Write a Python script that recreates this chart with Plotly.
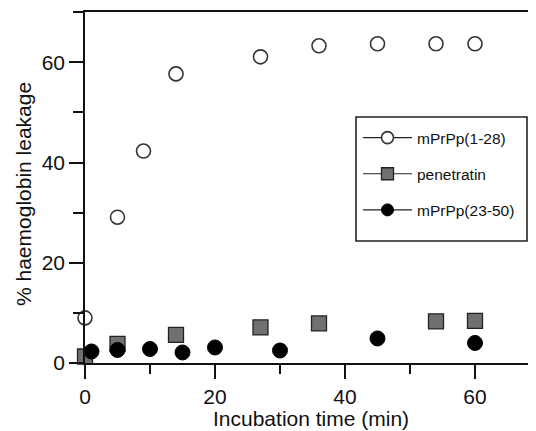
import plotly.graph_objects as go

# Data
series_names = ["mPrPp(1-28)", "penetratin", "mPrPp(23-50)"]
time_a = [0, 5, 9, 14, 27, 36, 45, 54, 60]
leak_a = [9.0, 29.1, 42.3, 57.7, 61.1, 63.3, 63.7, 63.7, 63.7]
time_b = [0, 5, 14, 27, 36, 54, 60]
leak_b = [1.3, 3.8, 5.6, 7.1, 7.9, 8.3, 8.4]
time_c = [1, 5, 10, 15, 20, 30, 45, 60]
leak_c = [2.3, 2.6, 2.8, 2.1, 3.1, 2.5, 4.9, 4.0]

x_ticks = [0, 20, 40, 60]
y_ticks = [0, 20, 40, 60]

FONT = "Liberation Sans, Arial, sans-serif"
INK = "#111111"

styles = [
    dict(symbol="circle", size=14, color="white", line=dict(color="#333333", width=1.6)),
    dict(symbol="square", size=15, color="#707070", line=dict(color="#222222", width=1.3)),
    dict(symbol="circle", size=15, color="black", line=dict(color="black", width=1)),
]
datasets = [(time_a, leak_a), (time_b, leak_b), (time_c, leak_c)]

fig = go.Figure()
for (xs, ys), st in zip(datasets, styles):
    fig.add_trace(go.Scatter(x=xs, y=ys, mode="markers", marker=st,
                             showlegend=False, cliponaxis=False))

# Legend entries (line + marker sample)
for i, (name, st) in enumerate(zip(series_names, styles)):
    lst = dict(st)
    lst["size"] = 12
    fig.add_trace(go.Scatter(x=[None], y=[None], mode="lines+markers", name=name,
                             marker=lst, line=dict(color="#222222", width=1.2),
                             legendgroup=f"g{i}", showlegend=True))

# The page body adds an 8 px offset; size the figure so the plot area lands
# at page pixels x 85..536, y 12..363.
OFF = 8
W, H = 536 - OFF, 431 - OFF
L, R, T = 85 - OFF, 0, 12 - OFF
B = H - (363 - OFF)
pw, ph = W - L - R, H - T - B

def px_x(px):
    return (px - OFF - L) / pw

def px_y(py):
    return (H - B - (py - OFF)) / ph

fig.update_layout(
    template="none",
    width=W, height=H,
    margin=dict(l=L, r=R, t=T, b=B, pad=0, autoexpand=False),
    plot_bgcolor="white", paper_bgcolor="white",
    font=dict(family=FONT, color=INK),
    legend=dict(x=px_x(358), y=px_y(121), xanchor="left", yanchor="top",
                bgcolor="rgba(0,0,0,0)", borderwidth=0,
                font=dict(size=15.5, family=FONT, color=INK),
                itemwidth=49, tracegroupgap=13),
    shapes=[dict(type="rect", xref="paper", yref="paper",
                 x0=px_x(356), x1=px_x(527), y0=px_y(241), y1=px_y(117),
                 line=dict(color="#222222", width=1.6), fillcolor="rgba(0,0,0,0)")],
    annotations=[
        dict(text="Incubation time (min)", xref="paper", yref="paper",
             x=0.5, y=px_y(418), xanchor="center", yanchor="middle",
             showarrow=False, font=dict(size=21, family=FONT, color=INK)),
        dict(text="% haemoglobin leakage", xref="paper", yref="paper",
             x=px_x(23), y=px_y(194), xanchor="center", yanchor="middle",
             textangle=-90, showarrow=False,
             font=dict(size=21, family=FONT, color=INK)),
    ],
)

fig.update_xaxes(range=[0, pw / 6.5], tickvals=x_ticks, ticktext=[str(v) for v in x_ticks],
                 automargin=False,
                 showline=True, linecolor=INK, linewidth=1.6, mirror=True,
                 ticks="outside", ticklen=14, tickwidth=1.6, tickcolor=INK,
                 tickfont=dict(size=21, family=FONT, color=INK),
                 showgrid=False, zeroline=False,
                 minor=dict(tickvals=[10, 30, 50], ticks="outside", ticklen=9,
                            tickwidth=1.6, tickcolor=INK, showgrid=False))
fig.update_yaxes(range=[0, 70.05], tickvals=y_ticks, ticktext=[str(v) for v in y_ticks],
                 automargin=False,
                 showline=True, linecolor=INK, linewidth=1.6, mirror=False,
                 ticks="outside", ticklen=14, tickwidth=1.6, tickcolor=INK,
                 tickfont=dict(size=21, family=FONT, color=INK),
                 showgrid=False, zeroline=False,
                 minor=dict(tickvals=[10, 30, 50, 70], ticks="outside", ticklen=10,
                            tickwidth=1.6, tickcolor=INK, showgrid=False))

fig.write_html("out.html")
